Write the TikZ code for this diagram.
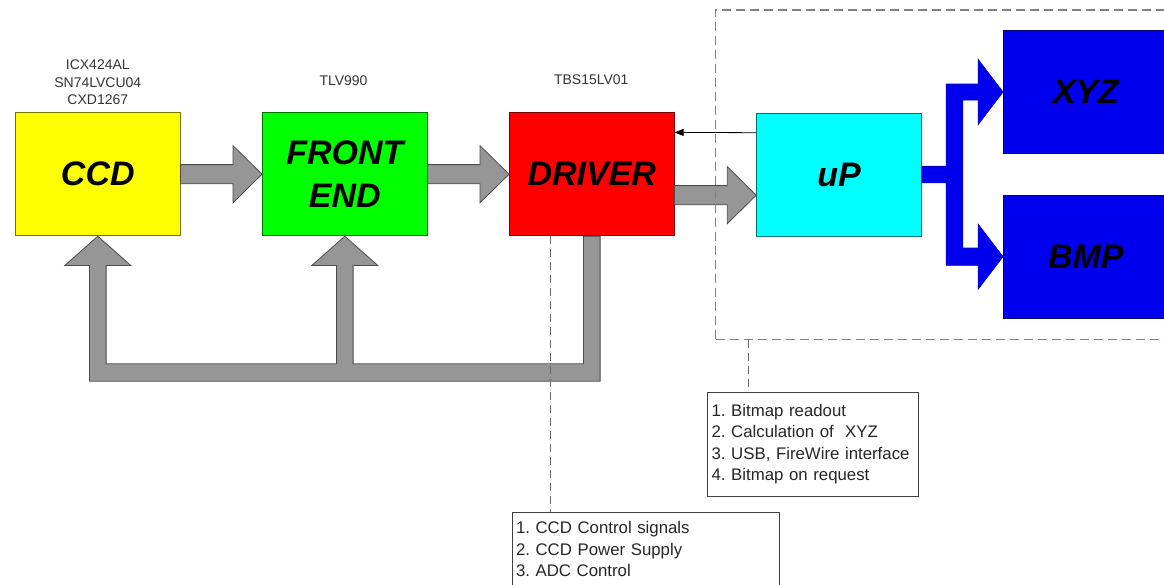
\documentclass[tikz,border=0pt]{standalone}
\usepackage{fontspec}
\setmainfont{Liberation Sans}
\usetikzlibrary{arrows.meta, calc}

\definecolor{ccdyellow}{RGB}{255,255,0}
\definecolor{fegreen}{RGB}{0,255,0}
\definecolor{drvred}{RGB}{255,0,0}
\definecolor{upcyan}{RGB}{0,255,255}
\definecolor{hostblue}{RGB}{0,0,238}
\definecolor{arrowgray}{RGB}{150,150,150}

\frenchspacing
\hyphenpenalty=10000

\begin{document}
\begin{tikzpicture}[
  x=1pt, y=1pt,
  block/.style={rectangle, draw=#1!45!black, line width=1pt, fill=#1, minimum width=164.5pt, minimum height=123pt, align=center, font=\fontsize{34}{42.8}\selectfont\bfseries\itshape},
  partno/.style={align=center, text=black!80, font=\fontsize{14}{17.5}\selectfont},
  note/.style={rectangle, draw=black!75, line width=0.8pt, fill=white, align=left, anchor=north west, inner xsep=3.9pt, inner ysep=0pt, text=black!85, font=\fontsize{16.8}{21.3}\selectfont},
  fat/.style={draw=black!70, line width=0.8pt, fill=arrowgray, line join=miter},
  fork/.style={draw=hostblue!75!black, line width=0.6pt, fill=hostblue, line join=miter},
  thinarr/.style={-{Triangle[length=9pt, width=7pt]}, line width=0.8pt, draw=black},
  pcframe/.style={rectangle, draw=black!50, line width=1.3pt, dash pattern=on 9pt off 5pt, inner sep=0pt, anchor=north west},
  leader/.style={draw=black!60, line width=1pt, dash pattern=on 8pt off 5pt}
]
\useasboundingbox (0,0) rectangle (1164,-584);
\clip (0,0) rectangle (1164,-584);

% signal chain
\node[block=ccdyellow] (ccd) at (97.8,-174.2) {CCD};
\node[block=fegreen] (fe) at (344.8,-174.2) {FRONT\\END};
\node[block=drvred] (drv) at (591.8,-174.2) {DRIVER};
\node[block=upcyan] (up) at (839,-174.5) {uP};
\node[block=hostblue] (xyz) at (1085.8,-92) {XYZ};
\node[block=hostblue] (bmp) at (1085.8,-256.7) {BMP};

% part numbers
\node[partno] (ccdparts) at (97.8,-82.3) {ICX424AL\\SN74LVCU04\\CXD1267};
\node[partno] (feparts) at (343.5,-80.7) {TLV990};
\node[partno] (drvparts) at (591.3,-80) {TBS15LV01};

% data path
\draw[fat] let \p1=(ccd.east), \p2=(fe.west) in
  (\x1,\y1+9.6pt) -- (\x2-29pt,\y1+9.6pt) -- (\x2-29pt,\y1+28.5pt) -- (\x2,\y1)
  -- (\x2-29pt,\y1-28.5pt) -- (\x2-29pt,\y1-9.6pt) -- (\x1,\y1-9.6pt) -- cycle;
\draw[fat] let \p1=(fe.east), \p2=(drv.west) in
  (\x1,\y1+9.6pt) -- (\x2-29pt,\y1+9.6pt) -- (\x2-29pt,\y1+28.5pt) -- (\x2,\y1)
  -- (\x2-29pt,\y1-28.5pt) -- (\x2-29pt,\y1-9.6pt) -- (\x1,\y1-9.6pt) -- cycle;
\draw[fat] let \p1=([yshift=-21pt]drv.east), \p2=(up.west) in
  (\x1,\y1+9.6pt) -- (\x2-29pt,\y1+9.6pt) -- (\x2-29pt,\y1+28.5pt) -- (\x2,\y1)
  -- (\x2-29pt,\y1-28.5pt) -- (\x2-29pt,\y1-9.6pt) -- (\x1,\y1-9.6pt) -- cycle;

% control loop from the driver back to CCD and front end
\draw[fat] let \p1=(drv.south), \p2=(fe.south), \p3=(ccd.south) in
  (\x1-8.3pt,\y1) -- (\x1-8.3pt,\y1-127.6pt) -- (\x2+8.3pt,\y1-127.6pt)
  -- (\x2+8.3pt,\y2-29.3pt) -- (\x2+33pt,\y2-29.3pt) -- (\x2,\y2) -- (\x2-33pt,\y2-29.3pt)
  -- (\x2-8.3pt,\y2-29.3pt) -- (\x2-8.3pt,\y1-127.6pt) -- (\x3+8.3pt,\y1-127.6pt)
  -- (\x3+8.3pt,\y3-29.3pt) -- (\x3+33pt,\y3-29.3pt) -- (\x3,\y3) -- (\x3-33pt,\y3-29.3pt)
  -- (\x3-8.3pt,\y3-29.3pt) -- (\x3-8.3pt,\y1-145pt) -- (\x1+8.3pt,\y1-145pt)
  -- (\x1+8.3pt,\y1) -- cycle;

% outputs of the uP
\draw[fork] let \p1=(up.east), \p2=(xyz.west), \p3=(bmp.west) in
  (\x1,\y1+8.3pt) -- (\x1+24.4pt,\y1+8.3pt) -- (\x1+24.4pt,\y2+8pt) -- (\x2-25pt,\y2+8pt)
  -- (\x2-25pt,\y2+32.8pt) -- (\x2,\y2) -- (\x2-25pt,\y2-32.8pt) -- (\x2-25pt,\y2-8pt)
  -- (\x1+41pt,\y2-8pt) -- (\x1+41pt,\y3+8.7pt) -- (\x3-25pt,\y3+8.7pt)
  -- (\x3-25pt,\y3+32.7pt) -- (\x3,\y3) -- (\x3-25pt,\y3-32.7pt) -- (\x3-25pt,\y3-8.7pt)
  -- (\x1+24.4pt,\y3-8.7pt) -- (\x1+24.4pt,\y1-8.3pt) -- (\x1,\y1-8.3pt) -- cycle;

\draw[thinarr] ([yshift=41.8pt]up.west) -- ([yshift=41.8pt]drv.east);

% host side
\node[pcframe, minimum width=480pt, minimum height=329.7pt] (host) at (715,-9.3) {};

% task lists
\node[note, text width=203pt, minimum height=104pt] (uptasks) at (707.3,-391.7)
  {1. Bitmap readout\\2. Calculation of\ \ XYZ\\3. USB, FireWire interface\\4. Bitmap on request};
\node[note, text width=259.8pt, minimum height=73pt] (drvtasks) at (511.7,-512.3)
  {1. CCD Control signals\\2. CCD Power Supply\\3. ADC Control};

\coordinate (drvtap) at ([xshift=-41.1pt]drv.south);
\coordinate (hosttap) at ([xshift=33.3pt]host.south west);
\draw[leader] (drvtap) -- (drvtap |- drvtasks.north);
\draw[leader] (hosttap) -- (hosttap |- uptasks.north);

\end{tikzpicture}
\end{document}
